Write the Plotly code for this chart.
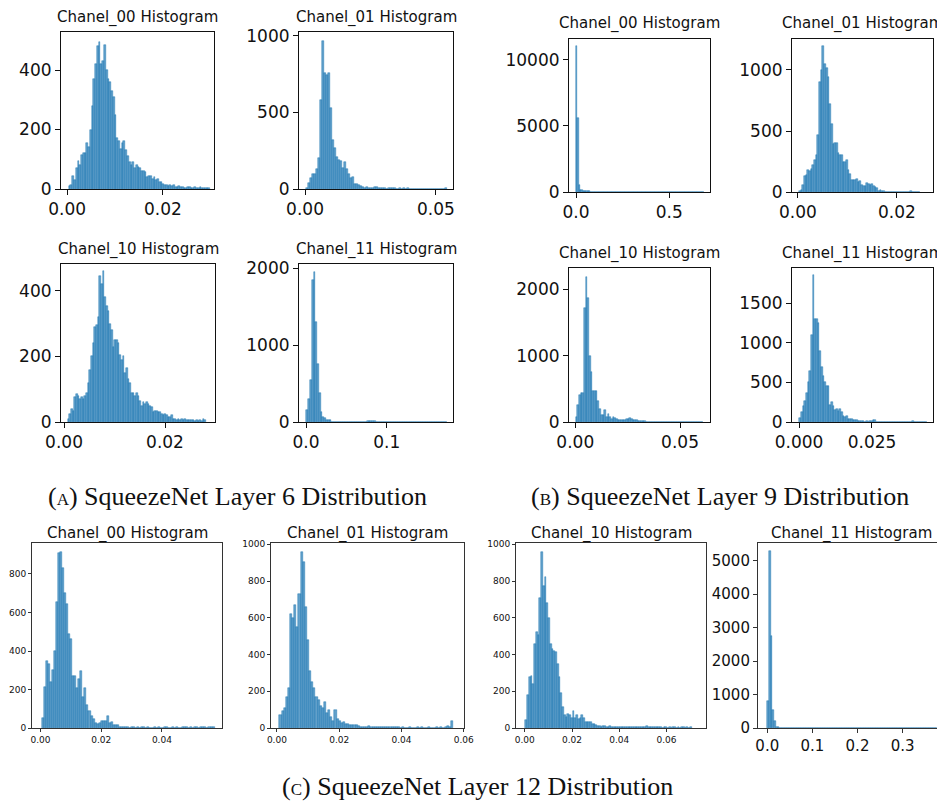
import numpy as np
import plotly.graph_objects as go

# ---------------- data ----------------
titles = ["Chanel_00 Histogram", "Chanel_01 Histogram", "Chanel_00 Histogram", "Chanel_01 Histogram",
          "Chanel_10 Histogram", "Chanel_11 Histogram", "Chanel_10 Histogram", "Chanel_11 Histogram",
          "Chanel_00 Histogram", "Chanel_01 Histogram", "Chanel_10 Histogram", "Chanel_11 Histogram"]

captions = ["(<span style='font-size:17px'>A</span>) SqueezeNet Layer 6 Distribution",
            "(<span style='font-size:17px'>B</span>) SqueezeNet Layer 9 Distribution",
            "(<span style='font-size:17px'>C</span>) SqueezeNet Layer 12 Distribution"]

# bin start / width for each histogram (x in activation value)
bin_start = [0.0003, 0.0005, 0.0, 0.0002,
             0.0007, 0.0005, 0.0002, 0.0001,
             0.0004, 0.0008, 0.0003, 0.0]
bin_width = [0.00037, 0.000765, 0.007, 0.00034,
             0.00033, 0.0022, 0.0008, 0.00057,
             0.00067, 0.00068, 0.00074, 0.0038]

l6_ch00 = [10, 12, 45, 30, 70, 95, 80, 115, 120, 120, 155, 140, 200, 280, 370, 420, 480, 495, 420, 430,
           485, 400, 370, 360, 330, 310, 250, 170, 160, 135, 155, 160, 130, 110, 90, 80, 90, 70, 80, 75,
           70, 62, 60, 58, 40, 45, 45, 35, 40, 30, 35, 25, 22, 18, 15, 12, 10, 12, 10, 12,
           8, 8, 10, 6, 8, 5, 4, 6, 8, 4, 3, 6, 4, 3, 8, 2, 3, 2, 4, 2]
l6_ch01 = [5, 40, 75, 100, 100, 130, 200, 580, 970, 760, 745, 760, 530, 320, 270, 210, 190, 180, 140, 175,
           130, 100, 75, 80, 30, 35, 25, 20, 15, 8, 10, 8, 8, 6, 10, 10, 6, 5, 4, 6,
           3, 5, 4, 6, 4, 3, 5, 3, 4, 2, 5, 3, 2, 3, 2, 2, 3, 1, 2, 1,
           2, 1, 1, 2, 1, 1, 1, 2, 1, 8]
l9_ch00 = [11050, 5580, 550, 180, 170, 110, 80, 70, 100, 60, 40, 30, 20, 15, 10, 8, 6, 5, 4, 3,
           3, 2, 2, 1, 2, 1, 1, 1, 2, 1, 1, 0, 1, 1, 0, 1, 0, 1, 1, 0,
           1, 0, 0, 1, 0, 1, 0, 0, 1, 0, 0, 1, 0, 0, 0, 1, 0, 0, 1, 0,
           0, 0, 1, 0, 0, 0, 1, 0, 0, 0, 0, 1, 0, 0, 0, 0, 0, 0, 1, 0,
           0, 0, 0, 0, 0, 0, 0, 0, 0, 1, 0, 0, 0, 0, 0, 0, 0, 1]
l9_ch01 = [10, 20, 60, 130, 140, 180, 170, 190, 220, 260, 300, 470, 900, 1000, 1200, 1050, 1020, 940, 720, 560,
           390, 400, 400, 320, 300, 300, 250, 250, 260, 180, 150, 100, 100, 100, 110, 80, 90, 60, 50, 50,
           70, 65, 60, 65, 50, 45, 30, 10, 15, 10, 5, 3, 2, 3, 2, 1, 2, 1, 1, 2,
           1, 1, 1, 2, 1, 1, 12, 1, 0, 0, 1, 1]
l6_ch10 = [10, 25, 40, 35, 75, 85, 80, 70, 75, 70, 80, 90, 120, 160, 200, 240, 290, 295, 320, 445,
           420, 460, 380, 355, 340, 300, 280, 230, 250, 250, 240, 205, 190, 200, 150, 165, 130, 120, 90, 90,
           80, 90, 80, 65, 50, 60, 55, 60, 55, 50, 45, 30, 35, 35, 30, 30, 25, 20, 25, 20,
           15, 15, 20, 10, 10, 6, 8, 6, 8, 5, 8, 7, 6, 6, 5, 6, 4, 5, 3, 6, 4, 8, 5]
l6_ch11 = [150, 300, 550, 1850, 1950, 1300, 750, 380, 130, 60, 50, 20, 25, 30, 5, 3, 2, 1, 2, 1,
           1, 2, 1, 1, 2, 1, 1, 1, 1, 1, 1, 1, 2, 3, 15, 15, 14, 16, 15, 3,
           1, 1, 1, 0, 1, 0, 1, 0, 0, 1, 0, 1, 0, 0, 1, 0, 0, 0, 1, 0,
           0, 1, 0, 0, 0, 1, 0, 0, 0, 0, 1, 0, 0, 0, 0, 0, 0, 0, 1]
l9_ch10 = [80, 250, 400, 430, 430, 1720, 2180, 1870, 1000, 750, 460, 460, 460, 320, 200, 110, 110, 180, 70, 120,
           70, 50, 80, 60, 50, 30, 30, 30, 25, 30, 50, 40, 55, 40, 30, 30, 25, 20, 15, 15,
           10, 8, 6, 5, 4, 5, 3, 4, 3, 2, 3, 2, 2, 3, 1, 2, 1, 2, 1, 1,
           1, 2, 1, 1, 0, 1, 1, 0, 1, 0, 1, 0, 0, 1, 0, 1]
l9_ch11 = [50, 120, 200, 270, 370, 500, 650, 1100, 1850, 1300, 1300, 1250, 900, 700, 580, 510, 460, 450, 220, 250,
           200, 150, 160, 140, 170, 120, 80, 60, 70, 40, 40, 35, 30, 20, 20, 15, 15, 10, 10, 5,
           8, 5, 10, 15, 20, 20, 5, 3, 2, 2, 1, 2, 1, 1, 2, 1, 1, 1, 0, 1,
           1, 0, 1, 0, 1, 0, 0, 1, 15, 1, 0, 0, 1, 0, 0, 1, 1]
l12_ch00 = [50, 215, 350, 335, 240, 300, 400, 655, 910, 915, 830, 700, 645, 490, 460, 270, 270, 210, 255, 295,
            160, 210, 120, 90, 60, 45, 25, 20, 25, 35, 35, 35, 60, 25, 30, 15, 15, 15, 5, 4,
            3, 4, 3, 2, 4, 3, 2, 3, 2, 4, 3, 2, 3, 2, 2, 3, 2, 3, 2, 2,
            4, 3, 2, 2, 3, 2, 3, 2, 2, 3, 4, 3, 2, 3, 2, 3, 4, 2, 3, 5,
            3, 2, 4, 3, 5]
l12_ch01 = [70, 95, 110, 170, 220, 620, 600, 670, 550, 730, 960, 905, 660, 480, 310, 250, 220, 170, 150, 120,
            110, 140, 80, 100, 60, 40, 100, 50, 40, 25, 30, 20, 20, 15, 15, 15, 15, 10, 5, 5,
            8, 5, 10, 5, 5, 3, 5, 3, 5, 3, 3, 5, 3, 3, 5, 3, 3, 2, 3, 2,
            2, 3, 2, 2, 2, 3, 2, 3, 2, 2, 3, 2, 2, 2, 3, 2, 3, 2, 5, 10,
            3, 40]
l12_ch10 = [45, 180, 280, 285, 240, 455, 525, 505, 710, 960, 775, 820, 680, 600, 455, 430, 420, 415, 350, 280,
            190, 115, 70, 60, 75, 70, 55, 90, 55, 70, 50, 55, 70, 55, 35, 30, 30, 30, 20, 20,
            15, 10, 12, 8, 10, 10, 8, 8, 10, 8, 5, 5, 8, 5, 5, 5, 3, 5, 5, 3,
            3, 8, 5, 3, 3, 3, 5, 5, 8, 10, 8, 5, 3, 3, 5, 3, 3, 3, 2, 3,
            3, 2, 3, 2, 3, 3, 2, 3, 2, 5, 3, 2, 3, 2, 3]
l12_ch11 = [800, 5300, 2750, 530, 200, 40, 25, 15, 12, 10, 8, 10, 6, 8, 5, 6, 5, 7, 6, 5,
            8, 6, 5, 7, 6, 5, 8, 6, 7, 5, 6, 8, 5, 6, 7, 5, 6, 8, 6, 5,
            7, 6, 5, 8, 6, 5, 7, 6, 5, 6, 8, 5, 6, 7, 5, 6, 8, 12, 6, 5,
            7, 6, 5, 8, 6, 5, 7, 6, 5, 6, 8, 5, 6, 7, 5, 6, 8, 6, 5, 7,
            6, 5, 8, 6, 5, 7, 6, 5, 6, 8, 5, 6, 7, 5, 6, 8, 6, 15, 5]

series = [l6_ch00, l6_ch01, l9_ch00, l9_ch01,
          l6_ch10, l6_ch11, l9_ch10, l9_ch11,
          l12_ch00, l12_ch01, l12_ch10, l12_ch11]

x_ranges = [[-0.0013, 0.0307], [-0.0023, 0.0565], [-0.0375, 0.718], [-0.0012, 0.0273],
            [-0.0006, 0.0299], [-0.0087, 0.182], [-0.003, 0.0643], [-0.0024, 0.0459],
            [-0.0028, 0.0598], [-0.0019, 0.0601], [-0.0037, 0.0767], [-0.0206, 0.394]]
y_max = [528, 1026, 11590, 1254, 482, 2055, 2322, 1944, 961, 1007, 1007, 5530]

x_tickvals = [[0, 0.02], [0, 0.05], [0, 0.5], [0, 0.02],
              [0, 0.02], [0, 0.1], [0, 0.05], [0, 0.025],
              [0, 0.02, 0.04], [0, 0.02, 0.04, 0.06], [0, 0.02, 0.04, 0.06], [0, 0.1, 0.2, 0.3]]
x_ticktext = [["0.00", "0.02"], ["0.00", "0.05"], ["0.0", "0.5"], ["0.00", "0.02"],
              ["0.00", "0.02"], ["0.0", "0.1"], ["0.00", "0.05"], ["0.000", "0.025"],
              ["0.00", "0.02", "0.04"], ["0.00", "0.02", "0.04", "0.06"],
              ["0.00", "0.02", "0.04", "0.06"], ["0.0", "0.1", "0.2", "0.3"]]
y_tickvals = [[0, 200, 400], [0, 500, 1000], [0, 5000, 10000], [0, 500, 1000],
              [0, 200, 400], [0, 1000, 2000], [0, 1000, 2000], [0, 500, 1000, 1500],
              [0, 200, 400, 600, 800], [0, 200, 400, 600, 800, 1000],
              [0, 200, 400, 600, 800, 1000], [0, 1000, 2000, 3000, 4000, 5000]]

# ---------------- layout (pixels of the 945x802 page) ----------------
OFF = 8                      # default page body margin
W, H = 945 - OFF, 802 - OFF  # figure size so it fits the page exactly


def fx(px):
    return min(max((px - OFF) / W, 0.0), 1.0)


def fy(py):
    return min(max(1 - (py - OFF) / H, 0.0), 1.0)


boxes = [(61, 214, 32, 189), (299, 453, 32, 189), (569, 710, 39, 192), (792, 933, 39, 192),
         (61, 215, 264, 422), (299, 453, 264, 422), (569, 710, 268, 422), (792, 933, 268, 422),
         (32, 222, 543, 728), (271, 464, 543, 728), (516, 706, 543, 728), (758, 945, 543, 728)]
title_y = [17, 17, 23, 23, 249, 249, 254, 254, 533, 533, 533, 533]
tick_font = [17, 17, 17, 17, 17, 17, 17, 17, 9, 9, 9, 15]
tick_len = [5, 5, 5, 5, 5, 5, 5, 5, 3, 3, 3, 4]
line_col = ["#111"] * 8 + ["#333"] * 4

fig = go.Figure()
for i in range(12):
    counts = np.array(series[i], dtype=float)
    centers = bin_start[i] + (np.arange(len(counts)) + 0.5) * bin_width[i]
    sfx = "" if i == 0 else str(i + 1)
    fig.add_trace(go.Bar(
        x=centers, y=counts, width=bin_width[i],
        marker=dict(color="rgba(31,119,180,0.7)",
                    line=dict(color="rgba(31,119,180,0.95)", width=0.5)),
        xaxis="x" + sfx, yaxis="y" + sfx, showlegend=False, hoverinfo="x+y"))
    x0, x1, yt, yb = boxes[i]
    common = dict(showline=True, mirror=True, linecolor=line_col[i], linewidth=1.1,
                  ticks="outside", ticklen=tick_len[i], tickwidth=1, tickcolor=line_col[i],
                  showgrid=False, zeroline=False, automargin=False,
                  tickfont=dict(family="DejaVu Sans", size=tick_font[i], color="#111"))
    fig.layout["xaxis" + sfx] = dict(domain=[fx(x0), fx(x1)], anchor="y" + sfx,
                                     range=x_ranges[i], tickvals=x_tickvals[i],
                                     ticktext=x_ticktext[i], **common)
    fig.layout["yaxis" + sfx] = dict(domain=[fy(yb), fy(yt)], anchor="x" + sfx,
                                     range=[0, y_max[i]], tickvals=y_tickvals[i],
                                     ticktext=[str(v) for v in y_tickvals[i]], **common)
    fig.add_annotation(text=titles[i], x=fx((x0 + x1) / 2), y=fy(title_y[i]),
                       xref="paper", yref="paper", xanchor="center", yanchor="middle",
                       showarrow=False, font=dict(family="DejaVu Sans", size=15, color="#111"))

cap_pos = [(237, 497), (720, 497), (477, 786)]
for txt, (cx, cy) in zip(captions, cap_pos):
    fig.add_annotation(text=txt, x=fx(cx), y=fy(cy), xref="paper", yref="paper",
                       xanchor="center", yanchor="middle", showarrow=False,
                       font=dict(family="Liberation Serif", size=26, color="#111"))

fig.update_layout(width=W, height=H, margin=dict(l=0, r=0, t=0, b=0, autoexpand=False),
                  paper_bgcolor="white", plot_bgcolor="white", bargap=0)
fig.write_html("out.html", config={"displayModeBar": False})
